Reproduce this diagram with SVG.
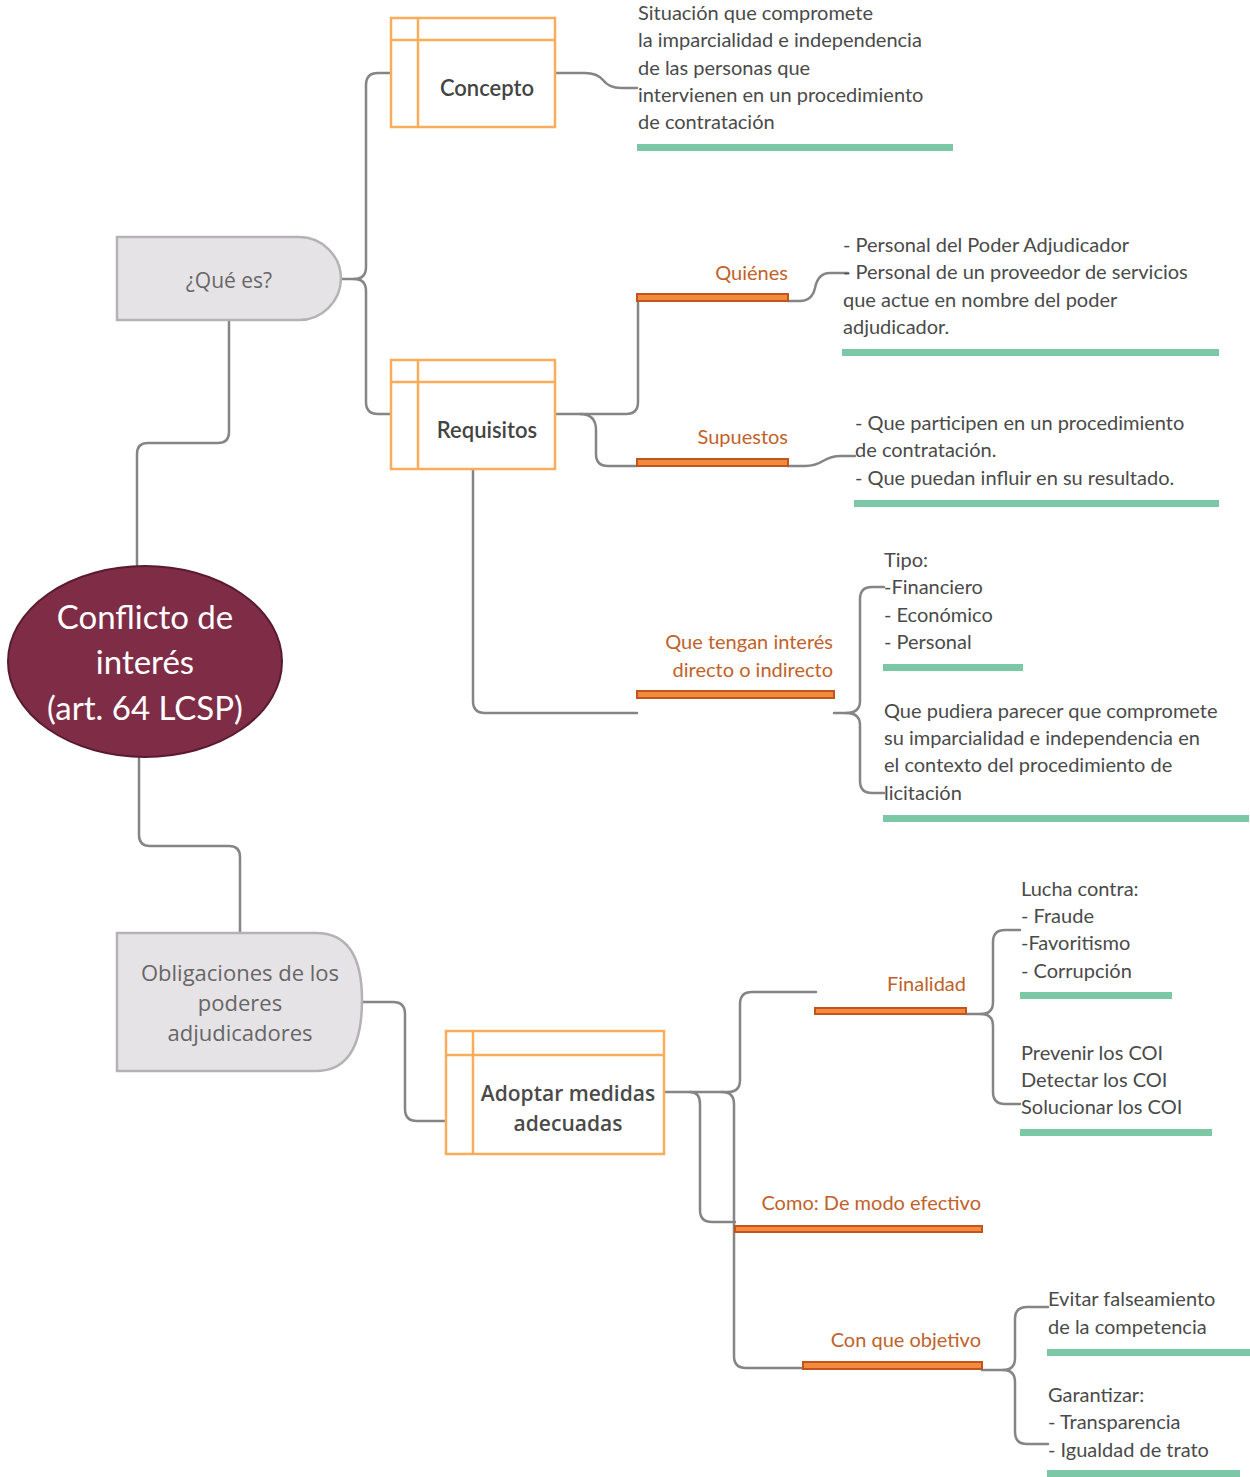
<svg xmlns="http://www.w3.org/2000/svg" width="1250" height="1477" viewBox="0 0 1250 1477">
<style>
.c{fill:none;stroke:#858585;stroke-width:2.5;stroke-linecap:round;stroke-linejoin:round}
.box{fill:#fff;stroke:#f9ac5a;stroke-width:2.5}
.boxl{fill:none;stroke:#f9ac5a;stroke-width:2.5}
.gray{fill:#e6e3e6;stroke:#b5b2b5;stroke-width:2.5}
.ob{fill:#f5893c;stroke:#c0561e;stroke-width:2}
.gb{fill:#7cc8a6}
.t{font-family:Lato,"Noto Sans",sans-serif;font-size:20px;fill:#4a4a4a}
.o{font-family:Lato,"Noto Sans",sans-serif;font-size:20px;fill:#c0622a;text-anchor:end}
.bt{font-family:Lato,"Noto Sans",sans-serif;font-size:22px;fill:#444;text-anchor:middle;font-weight:600}
.gt{font-family:"Open Sans","Noto Sans",sans-serif;font-size:22px;fill:#666;text-anchor:middle}
.at{font-family:"Open Sans","Noto Sans",sans-serif;font-size:21px;fill:#4a4a4a;text-anchor:middle;font-weight:600}
</style>
<g id="connectors">
<path class="c" d="M229 320 V432 Q229 443 218 443 H148 Q137 443 137 454 V566"/>
<path class="c" d="M139 757 V835 Q139 846 150 846 H229 Q240 846 240 857 V933"/>
<path class="c" d="M341 279 H354 Q366 279 366 267 V85 Q366 73 378 73 H391"/>
<path class="c" d="M354 279 Q366 279 366 291 V402 Q366 414 378 414 H391"/>
<path class="c" d="M362 1002 H393 Q405 1002 405 1014 V1109 Q405 1121 417 1121 H446"/>
<path class="c" d="M555 73 H585 Q597 73 603 80 Q609 88 621 88 H637"/>
<path class="c" d="M555 414 H626 Q638 414 638 402 V302"/>
<path class="c" d="M580 414 Q596 414 596 430 V454 Q596 466 608 466 H637"/>
<path class="c" d="M473 469 V701 Q473 713 485 713 H637"/>
<path class="c" d="M788 301 H800 Q812 301 815 288 Q818 273 830 273 H848"/>
<path class="c" d="M788 466 H805 Q815 466 823 461 Q831 456 841 456 H855"/>
<path class="c" d="M834 713 H846 Q860 713 860 701 V599 Q860 587 872 587 H884"/>
<path class="c" d="M846 713 Q860 713 860 725 V781 Q860 793 872 793 H884"/>
<path class="c" d="M664 1092 H728 Q740 1092 740 1080 V1004 Q740 992 752 992 H816"/>
<path class="c" d="M690 1092 Q700 1092 700 1104 V1210 Q700 1222 712 1222 H735"/>
<path class="c" d="M722 1092 Q734 1092 734 1104 V1356 Q734 1368 746 1368 H803"/>
<path class="c" d="M966 1014 H981 Q993 1014 993 1002 V942 Q993 930 1005 930 H1020"/>
<path class="c" d="M981 1014 Q993 1014 993 1026 V1092 Q993 1104 1005 1104 H1020"/>
<path class="c" d="M982 1370 H1003 Q1015 1370 1015 1358 V1319 Q1015 1307 1027 1307 H1048"/>
<path class="c" d="M1003 1370 Q1015 1370 1015 1382 V1432 Q1015 1444 1027 1444 H1048"/>
</g>
<g id="central">
<rect x="8" y="566" width="274" height="191" rx="137" ry="95.5" fill="#7f2d47" stroke="#5a1a30" stroke-width="2"/>
<text x="145" y="629" font-family="Lato,'Noto Sans',sans-serif" font-size="33" fill="#fff" text-anchor="middle">Conflicto de</text>
<text x="145" y="674" font-family="Lato,'Noto Sans',sans-serif" font-size="33" fill="#fff" text-anchor="middle">interés</text>
<text x="145" y="720" font-family="Lato,'Noto Sans',sans-serif" font-size="33" fill="#fff" text-anchor="middle">(art. 64 LCSP)</text>
</g>
<g id="que-es">
<path class="gray" d="M117 237 H299 A42 42 0 0 1 341 279 A42 42 0 0 1 299 320 H117 Z"/>
<text class="gt" x="229" y="288" style="font-size:21px">¿Qué es?</text>
</g>
<g id="obligaciones">
<path class="gray" d="M117 933 H316 Q362 933 362 1000 Q362 1071 316 1071 H117 Z"/>
<text class="gt" x="240" y="981">Obligaciones de los</text>
<text class="gt" x="240" y="1011">poderes</text>
<text class="gt" x="240" y="1041">adjudicadores</text>
</g>
<g id="concepto">
<rect class="box" x="391" y="18" width="164" height="109"/>
<path class="boxl" d="M391 40 H555 M418 18 V127"/>
<text class="bt" x="487" y="96">Concepto</text>
</g>
<g id="requisitos">
<rect class="box" x="391" y="360" width="164" height="109"/>
<path class="boxl" d="M391 382 H555 M418 360 V469"/>
<text class="bt" x="487" y="438">Requisitos</text>
</g>
<g id="adoptar">
<rect class="box" x="446" y="1031" width="218" height="123"/>
<path class="boxl" d="M446 1055 H664 M473 1031 V1154"/>
<text class="at" x="568" y="1101">Adoptar medidas</text>
<text class="at" x="568" y="1131">adecuadas</text>
</g>
<g id="concepto-text">
<text class="t" x="638" y="20">Situación que compromete</text>
<text class="t" x="638" y="47">la imparcialidad e independencia</text>
<text class="t" x="638" y="75">de las personas que</text>
<text class="t" x="638" y="102">intervienen en un procedimiento</text>
<text class="t" x="638" y="129">de contratación</text>
<rect class="gb" x="637" y="144" width="316" height="7"/>
</g>
<g id="quienes">
<rect class="ob" x="637" y="294" width="151" height="7"/>
<text class="o" x="788" y="280">Quiénes</text>
</g>
<g id="quienes-text">
<text class="t" x="843" y="252">- Personal del Poder Adjudicador</text>
<text class="t" x="843" y="279">- Personal de un proveedor de servicios</text>
<text class="t" x="843" y="307">que actue en nombre del poder</text>
<text class="t" x="843" y="334">adjudicador.</text>
<rect class="gb" x="842" y="349" width="377" height="7"/>
</g>
<g id="supuestos">
<rect class="ob" x="637" y="459" width="151" height="7"/>
<text class="o" x="788" y="444">Supuestos</text>
</g>
<g id="supuestos-text">
<text class="t" x="855" y="430">- Que participen en un procedimiento</text>
<text class="t" x="855" y="457">de contratación.</text>
<text class="t" x="855" y="485">- Que puedan influir en su resultado.</text>
<rect class="gb" x="854" y="500" width="365" height="7"/>
</g>
<g id="interes">
<rect class="ob" x="637" y="691" width="197" height="7"/>
<text class="o" x="833" y="649">Que tengan interés</text>
<text class="o" x="833" y="677">directo o indirecto</text>
</g>
<g id="tipo-text">
<text class="t" x="884" y="567">Tipo:</text>
<text class="t" x="884" y="594">-Financiero</text>
<text class="t" x="884" y="622">- Económico</text>
<text class="t" x="884" y="649">- Personal</text>
<rect class="gb" x="883" y="664" width="140" height="7"/>
</g>
<g id="parecer-text">
<text class="t" x="884" y="718">Que pudiera parecer que compromete</text>
<text class="t" x="884" y="745">su imparcialidad e independencia en</text>
<text class="t" x="884" y="772">el contexto del procedimiento de</text>
<text class="t" x="884" y="800">licitación</text>
<rect class="gb" x="883" y="815" width="366" height="7"/>
</g>
<g id="finalidad">
<rect class="ob" x="815" y="1008" width="151" height="6"/>
<text class="o" x="966" y="991">Finalidad</text>
</g>
<g id="lucha-text">
<text class="t" x="1021" y="896">Lucha contra:</text>
<text class="t" x="1021" y="923">- Fraude</text>
<text class="t" x="1021" y="950">-Favoritismo</text>
<text class="t" x="1021" y="978">- Corrupción</text>
<rect class="gb" x="1020" y="992" width="152" height="7"/>
</g>
<g id="prevenir-text">
<text class="t" x="1021" y="1060">Prevenir los COI</text>
<text class="t" x="1021" y="1087">Detectar los COI</text>
<text class="t" x="1021" y="1114">Solucionar los COI</text>
<rect class="gb" x="1020" y="1129" width="192" height="7"/>
</g>
<g id="como">
<rect class="ob" x="735" y="1226" width="247" height="6"/>
<text class="o" x="981" y="1210">Como: De modo efectivo</text>
</g>
<g id="objetivo">
<rect class="ob" x="803" y="1362" width="179" height="7"/>
<text class="o" x="981" y="1347">Con que objetivo</text>
</g>
<g id="evitar-text">
<text class="t" x="1048" y="1306">Evitar falseamiento</text>
<text class="t" x="1048" y="1334">de la competencia</text>
<rect class="gb" x="1047" y="1349" width="203" height="7"/>
</g>
<g id="garantizar-text">
<text class="t" x="1048" y="1402">Garantizar:</text>
<text class="t" x="1048" y="1429">- Transparencia</text>
<text class="t" x="1048" y="1457">- Igualdad de trato</text>
<rect class="gb" x="1047" y="1470" width="193" height="7"/>
</g>
</svg>
